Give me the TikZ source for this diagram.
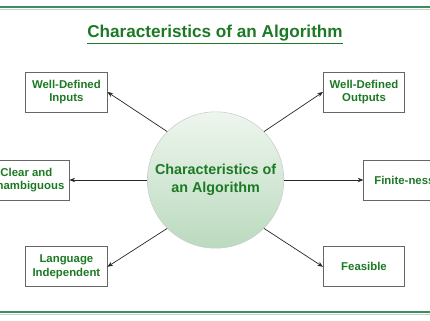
\documentclass[tikz,border=0pt]{standalone}
\usepackage{fontspec}
\setmainfont{Liberation Sans}
\usepackage{tikz}
\usetikzlibrary{arrows.meta}
\usepackage{xcolor}
\definecolor{algGreen}{RGB}{28,122,36}
\definecolor{rimGreen}{RGB}{62,140,96}
\definecolor{ballTop}{RGB}{238,246,238}
\definecolor{ballBot}{RGB}{186,218,190}

\begin{document}
\begin{tikzpicture}[>={Stealth[length=1.4mm,width=1.1mm]},
  feat/.style={draw=black!60,line width=0.6pt,fill=white,minimum width=2.03cm,minimum height=1cm,
    align=center,text=algGreen,font=\fontsize{8.1}{9.5}\selectfont\bfseries},
  link/.style={->,line width=0.5pt,black!85}]
\useasboundingbox (0,0) rectangle (10.75,8);
\draw[rimGreen,line width=1.6pt] (0,7.83) -- (10.75,7.83);
\draw[rimGreen!35,line width=0.5pt] (0,7.76) -- (10.75,7.76);
\draw[rimGreen,line width=1.2pt] (0,0.2) -- (10.75,0.2);
\draw[rimGreen!35,line width=0.5pt] (0,0.14) -- (10.75,0.14);
\node (t) at (5.375,7.13) {\fontsize{12.2}{14}\selectfont\bfseries\color{algGreen}\underline{Characteristics of an Algorithm}};
\node[circle,draw=black!20,top color=ballTop,bottom color=ballBot,minimum size=3.4cm,align=center,
  text=algGreen,font=\fontsize{10.2}{13}\selectfont\bfseries] (c) at (5.39,3.5) {Characteristics of\\an Algorithm};
\node[feat] (wi) at (1.66,5.7) {Well-Defined\\Inputs};
\node[feat] (wo) at (9.1,5.7) {Well-Defined\\Outputs};
\node[feat] (cu) at (0.66,3.5) {Clear and\\Unambiguous};
\node[feat] (fn) at (10.11,3.5) {Finite-ness};
\node[feat] (li) at (1.66,1.33) {Language\\Independent};
\node[feat] (fe) at (9.1,1.33) {Feasible};
\draw[link] (c.135) -- (wi.east);
\draw[link] (c.45) -- (wo.west);
\draw[link] (c.west) -- (cu.east);
\draw[link] (c.east) -- (fn.west);
\draw[link] (c.-135) -- (li.east);
\draw[link] (c.-45) -- (fe.west);
\end{tikzpicture}
\end{document}
